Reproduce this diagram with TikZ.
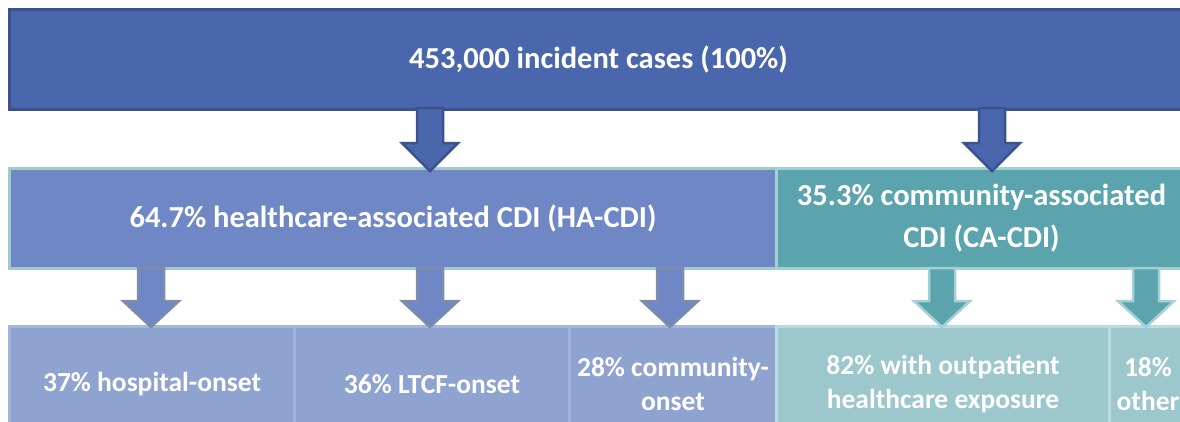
\documentclass[tikz,border=0pt]{standalone}
\usepackage{fontspec}
\setmainfont{Carlito}
\usetikzlibrary{positioning}
\definecolor{topfill}{HTML}{4A67AE}
\definecolor{topline}{HTML}{3A528E}
\definecolor{hafill}{HTML}{6F87C5}
\definecolor{haline}{HTML}{9FCBCF}
\definecolor{cafill}{HTML}{5BA4AE}
\definecolor{caline}{HTML}{A3D0D4}
\definecolor{haarrline}{HTML}{7D8CAB}
\definecolor{hcfill}{HTML}{8FA3D1}
\definecolor{hcline}{HTML}{A2B7DE}
\definecolor{ccfill}{HTML}{9CC7CD}
\definecolor{ccline}{HTML}{BADCE0}
\tikzset{
  box/.style={rectangle, anchor=north west, inner sep=0pt, line width=3pt,
    text=white, font=\bfseries\fontsize{30.5}{42}\selectfont, align=center},
  topbox/.style={box, fill=topfill, draw=topline},
  habox/.style={box, fill=hafill, draw=haline},
  cabox/.style={box, fill=cafill, draw=caline},
  hcbox/.style={box, fill=hcfill, draw=hcline, font=\bfseries\fontsize{27.5}{34}\selectfont},
  ccbox/.style={box, fill=ccfill, draw=ccline, font=\bfseries\fontsize{27.5}{34}\selectfont},
  toparr/.style={fill=topfill, draw=topline, line width=2.5pt, line join=miter},
  haarr/.style={fill=hafill, draw=haarrline, line width=2.5pt, line join=miter},
  caarr/.style={fill=cafill, draw=caline, line width=2.5pt, line join=miter},
}
% block arrow: style, x centre, top y, tip y, head height
\newcommand\blockarr[5]{%
  \draw[#1] (#2-13,#3) -- (#2+13,#3) -- (#2+13,#4-#5) -- (#2+28,#4-#5)
     -- (#2,#4) -- (#2-28,#4-#5) -- (#2-13,#4-#5) -- cycle;}
\begin{document}
\begin{tikzpicture}[x=1pt,y=-1pt]
\useasboundingbox (0,0) rectangle (1180,421);
\clip (0,0) rectangle (1180,421);
% row 1
\node[topbox, minimum width=1178pt, minimum height=100pt] (top) at (8,8) {453,000 incident cases (100\%)};
% row 2
\node[habox, minimum width=767pt, minimum height=100pt] (ha) at (8,167) {64.7\% healthcare-associated CDI (HA-CDI)};
\node[cabox, minimum width=410pt, minimum height=100pt] (ca) at (775,167) {35.3\% community-associated\\CDI (CA-CDI)};
% row 3
\node[hcbox, minimum width=285pt, minimum height=115pt] (hosp) at (8,325) {37\% hospital-onset};
\node[hcbox, minimum width=275pt, minimum height=115pt] (ltcf) at (293,325) {36\% LTCF-onset};
\node[hcbox, minimum width=207pt, minimum height=115pt] (comm) at (568,325) {28\% community-\\onset};
\node[ccbox, minimum width=333pt, minimum height=115pt] (outp) at (775,325) {82\% with outpatient\\healthcare exposure};
\node[ccbox, minimum width=77pt, minimum height=115pt] (other) at (1108,325) {18\%\\other};
% arrows row 1 -> row 2
\blockarr{toparr}{430}{108}{171}{28}
\blockarr{toparr}{992}{108}{171}{28}
% arrows row 2 -> row 3
\blockarr{haarr}{151}{268}{327}{26}
\blockarr{haarr}{430}{268}{327}{26}
\blockarr{haarr}{670}{268}{327}{26}
\blockarr{caarr}{942}{268}{327}{26}
\blockarr{caarr}{1146}{268}{327}{26}
\end{tikzpicture}
\end{document}
